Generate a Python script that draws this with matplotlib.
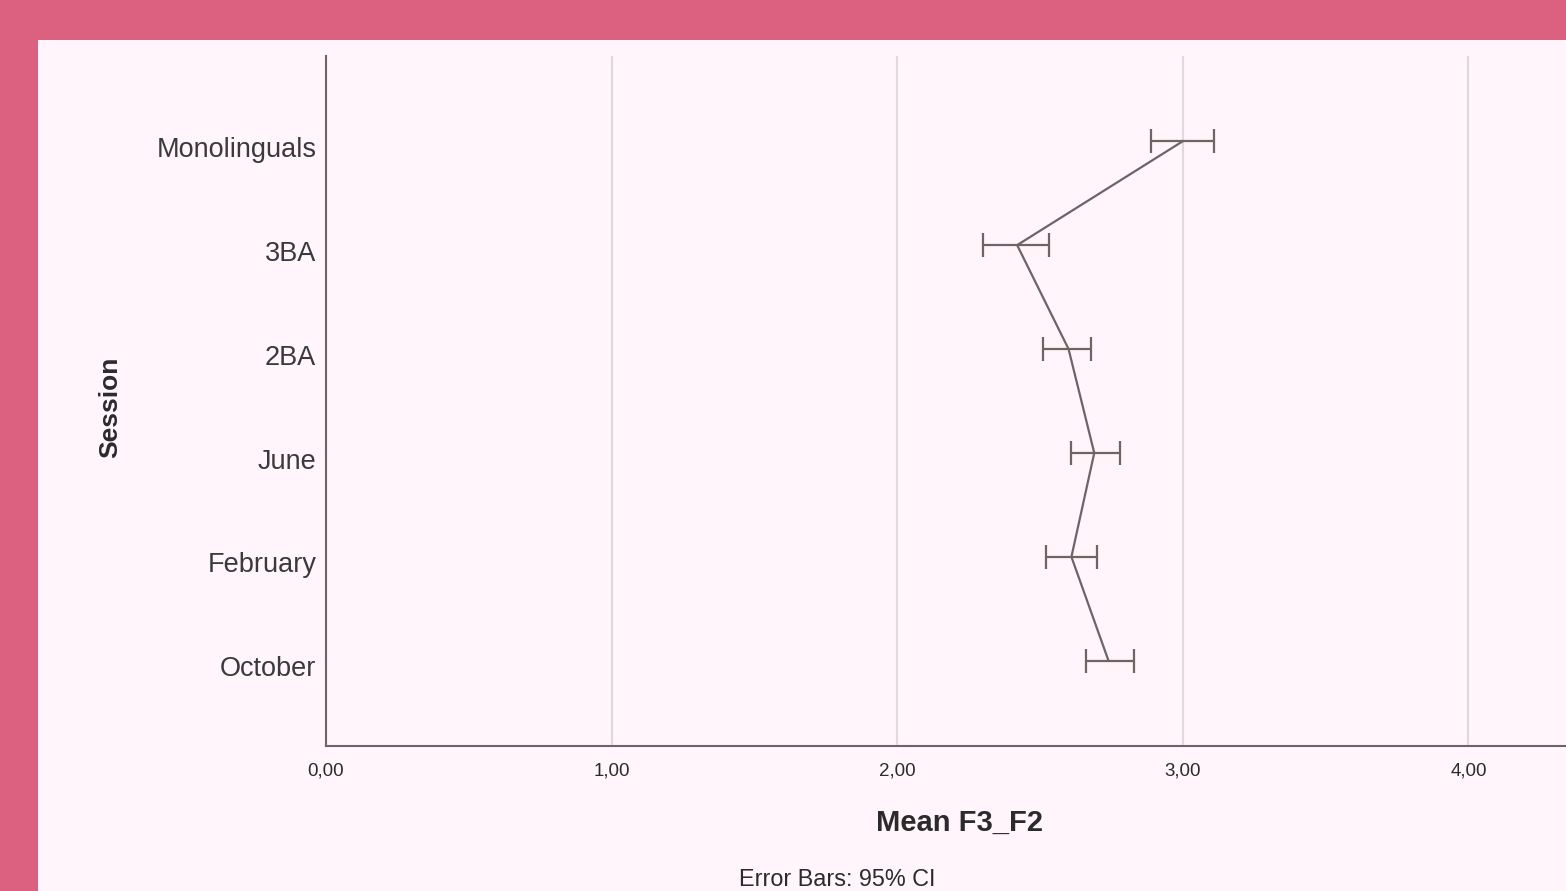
import matplotlib
matplotlib.use('Agg')
import matplotlib.pyplot as plt
import matplotlib.patches as mpatches
import matplotlib.transforms as mtransforms

plt.rcParams['font.family'] = ['Liberation Sans', 'DejaVu Sans']

# data (bottom to top)
sessions = ['October', 'February', 'June', '2BA', '3BA', 'Monolinguals']
means = [2.74, 2.61, 2.69, 2.60, 2.42, 3.00]
ci_low = [2.66, 2.52, 2.61, 2.51, 2.30, 2.89]
ci_high = [2.83, 2.70, 2.78, 2.68, 2.53, 3.11]
xticks = [0, 1, 2, 3, 4]
xtick_labels = ['0,00', '1,00', '2,00', '3,00', '4,00']

BORDER = '#DC6180'
BG = '#FFF5FA'
LINE = '#6E6464'
GRID = '#E0DADF'
TEXT = '#2B2B2B'

W, H = 1566, 891
fig = plt.figure(figsize=(W / 100, H / 100), dpi=100, facecolor=BORDER)

# inner panel
fig.patches.append(mpatches.Rectangle((38 / W, 0), 1, (H - 40) / H, transform=fig.transFigure,
                                      facecolor=BG, edgecolor='none', zorder=-10))

ax = fig.add_axes([326 / W, (H - 746) / H, (W - 326) / W, (746 - 56) / H])
ax.set_facecolor(BG)

ypos = list(range(len(sessions)))
xerr = [[m - lo for m, lo in zip(means, ci_low)], [hi - m for m, hi in zip(means, ci_high)]]
ax.errorbar(means, ypos, xerr=xerr, color=LINE, lw=1.6, elinewidth=1.6,
            capsize=8.6, capthick=1.6, zorder=3)

ax.set_xlim(0, (W - 326) / 285.6)
ax.set_ylim(-0.82, 5.82)
ax.set_xticks(xticks)
ax.set_xticklabels(xtick_labels, fontsize=13.5, color=TEXT)
ax.set_yticks(ypos)
ax.set_yticklabels(sessions, fontsize=19.5, color='#3A3A3A')
ax.tick_params(axis='both', length=0)
ax.tick_params(axis='x', pad=12)
ax.tick_params(axis='y', pad=7)

# SPSS-style labels sit a little below the point
shift = mtransforms.ScaledTranslation(0, -4 / 72, fig.dpi_scale_trans)
for lbl in ax.get_yticklabels():
    lbl.set_transform(lbl.get_transform() + shift)

ax.grid(axis='x', color=GRID, lw=1.5, zorder=1)
ax.set_axisbelow(True)
for s in ['top', 'right']:
    ax.spines[s].set_visible(False)
for s in ['left', 'bottom']:
    ax.spines[s].set_color(LINE)
    ax.spines[s].set_linewidth(1.5)

fig.text(960 / W, 1 - 823 / H, 'Mean F3_F2', ha='center', va='center',
         fontsize=21, fontweight='bold', color=TEXT)
fig.text(110 / W, 1 - 407 / H, 'Session', ha='center', va='center', rotation=90,
         fontsize=19, fontweight='bold', color=TEXT)
fig.text(837 / W, 1 - 880 / H, 'Error Bars: 95% CI', ha='center', va='center',
         fontsize=16.8, color=TEXT)

fig.savefig('out.png', dpi=100, facecolor=BORDER)
